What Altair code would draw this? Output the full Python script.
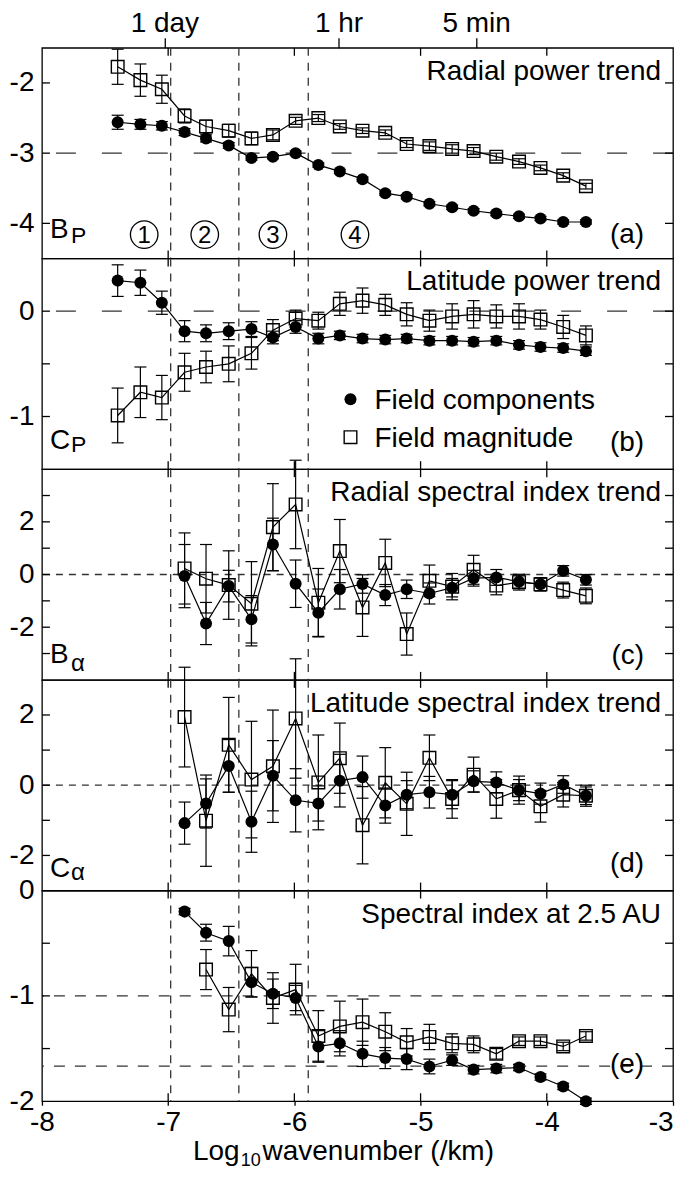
import altair as alt
import pandas as pd

# ---------------- data ----------------
X = [-7.40, -7.22, -7.05, -6.87, -6.70, -6.52, -6.34, -6.17, -5.99, -5.81, -5.64,
     -5.46, -5.28, -5.11, -4.93, -4.75, -4.58, -4.40, -4.22, -4.05, -3.87, -3.69]
N = None

# (a) Radial power trend
A_COMP = [-2.56, -2.59, -2.61, -2.70, -2.79, -2.89, -3.07, -3.05, -3.00, -3.17, -3.26,
          -3.37, -3.57, -3.62, -3.72, -3.77, -3.82, -3.86, -3.90, -3.93, -3.98, -3.98]
A_COMP_ERR = [0.10, 0.07, 0.06, 0.05, 0.05, 0.04, 0.03, 0.03, 0.03, 0.03, 0.03,
              0.03, 0.03, 0.03, 0.03, 0.03, 0.03, 0.03, 0.03, 0.03, 0.03, 0.03]
A_MAG = [-1.77, -1.96, -2.09, -2.47, -2.62, -2.68, -2.79, -2.74, -2.54, -2.50, -2.62,
         -2.68, -2.71, -2.87, -2.90, -2.94, -2.97, -3.05, -3.12, -3.21, -3.32, -3.47]
A_MAG_ERR = [0.25, 0.23, 0.20, 0.10, 0.09, 0.09, 0.09, 0.07, 0.05, 0.05, 0.04,
             0.04, 0.04, 0.05, 0.06, 0.06, 0.05, 0.05, 0.04, 0.04, 0.04, 0.04]

# (b) Latitude power trend
B_COMP = [0.29, 0.27, 0.08, -0.19, -0.21, -0.19, -0.17, -0.25, -0.15, -0.26, -0.23,
          -0.26, -0.27, -0.26, -0.28, -0.28, -0.29, -0.28, -0.32, -0.34, -0.35, -0.38]
B_COMP_ERR = [0.15, 0.12, 0.11, 0.10, 0.08, 0.08, 0.07, 0.06, 0.06, 0.05, 0.04,
              0.04, 0.04, 0.04, 0.04, 0.04, 0.04, 0.04, 0.04, 0.04, 0.04, 0.04]
B_MAG = [-0.99, -0.77, -0.82, -0.58, -0.53, -0.50, -0.40, -0.18, -0.07, -0.09, 0.07,
         0.10, 0.06, -0.03, -0.09, -0.05, -0.03, -0.05, -0.05, -0.08, -0.15, -0.23]
B_MAG_ERR = [0.26, 0.24, 0.21, 0.18, 0.15, 0.17, 0.15, 0.10, 0.08, 0.08, 0.11,
             0.12, 0.10, 0.11, 0.10, 0.12, 0.13, 0.11, 0.12, 0.09, 0.11, 0.09]

# (c) Radial spectral index trend
C_COMP = [N, N, N, -0.06, -1.86, -0.44, -1.70, 1.14, -0.35, -1.45, -0.56,
          -0.36, -0.78, -0.56, -0.72, -0.50, -0.14, -0.11, -0.27, -0.37, 0.14, -0.20]
C_COMP_ERR = [N, N, N, 1.2, 0.8, 0.6, 0.9, 1.0, 0.9, 0.9, 0.75,
              0.35, 0.4, 0.35, 0.4, 0.35, 0.3, 0.3, 0.25, 0.25, 0.2, 0.2]
C_MAG = [N, N, N, 0.23, -0.16, -0.40, -1.11, 1.80, 2.66, -1.07, 0.89,
         -1.25, 0.44, -2.26, -0.24, -0.46, 0.18, -0.42, -0.29, -0.37, -0.59, -0.81]
C_MAG_ERR = [N, N, N, 1.35, 1.3, 1.3, 1.6, 1.65, 1.68, 1.3, 1.2,
             1.1, 0.9, 0.8, 0.6, 0.5, 0.55, 0.35, 0.3, 0.25, 0.3, 0.3]

# (d) Latitude spectral index trend
D_COMP = [N, N, N, -1.08, -0.52, 0.55, -1.04, 0.27, -0.43, -0.52, 0.13,
          0.23, -0.58, -0.27, -0.20, -0.27, 0.11, 0.08, -0.14, -0.24, 0.02, -0.30]
D_COMP_ERR = [N, N, N, 0.6, 0.7, 0.75, 0.87, 1.0, 0.9, 0.5, 0.75,
              0.6, 0.5, 0.4, 0.45, 0.4, 0.3, 0.3, 0.3, 0.3, 0.25, 0.25]
D_MAG = [N, N, N, 1.94, -1.01, 1.15, 0.16, 0.54, 1.90, 0.08, 0.77,
         -1.14, 0.07, -0.53, 0.78, -0.39, 0.30, -0.39, -0.14, -0.60, -0.27, -0.30]
D_MAG_ERR = [N, N, N, 1.42, 1.3, 1.35, 1.66, 1.6, 1.7, 1.35, 1.0,
             1.1, 1.0, 0.9, 0.65, 0.55, 0.5, 0.55, 0.4, 0.45, 0.35, 0.3]

# (e) Spectral index at 2.5 AU
E_COMP = [N, N, N, -0.20, -0.40, -0.48, -0.87, -0.98, -1.02, -1.48, -1.45,
          -1.55, -1.59, -1.60, -1.67, -1.61, -1.70, -1.69, -1.68, -1.77, -1.86, -2.00]
E_COMP_ERR = [N, N, N, 0.03, 0.08, 0.14, 0.14, 0.14, 0.12, 0.15, 0.12,
              0.12, 0.10, 0.10, 0.07, 0.05, 0.04, 0.04, 0.03, 0.03, 0.03, 0.03]
E_MAG = [N, N, N, N, -0.75, -1.13, -0.79, -1.02, -0.94, -1.38, -1.29,
         -1.25, -1.34, -1.44, -1.39, -1.45, -1.46, -1.55, -1.43, -1.43, -1.48, -1.38]
E_MAG_ERR = [N, N, N, N, 0.19, 0.21, 0.22, 0.24, 0.24, 0.24, 0.24,
             0.22, 0.18, 0.13, 0.12, 0.09, 0.08, 0.05, 0.04, 0.04, 0.04, 0.04]

VLINES = [-6.98, -6.44, -5.89]
XTICKS = [-8, -7, -6, -5, -4, -3]
XINNER = [-7, -6, -5, -4]
TOP_TICK_X = [-7.03, -5.65, -4.56]
TOP_TICK_LABELS = ["1 day", "1 hr", "5 min"]
REGION_X = [-7.19, -6.71, -6.17, -5.52]
REGION_Y = -4.16
REGION_LABELS = ["1", "2", "3", "4"]
TITLES = ["Radial power trend", "Latitude power trend", "Radial spectral index trend",
          "Latitude spectral index trend", "Spectral index at 2.5 AU"]
LETTERS = ["(a)", "(b)", "(c)", "(d)", "(e)"]
LEGEND = ["Field components", "Field magnitude"]

# ---------------- style ----------------
FONT = "Liberation Sans"
FS = 28
W = 632
H = 211


def num_expr(vals):
    arr = "[" + ",".join(str(v) for v in vals) + "]"
    return ("indexof(" + arr + ", datum.value) >= 0 ? "
            "((datum.value < 0 ? '-' : '') + abs(datum.value)) : ''")


def series_rows(vals, errs, name):
    rows = []
    for x, y, e in zip(X, vals, errs):
        if y is None:
            continue
        rows.append({"x": x, "y": y, "lo": y - e, "hi": y + e, "s": name})
    return rows


def xaxis_for(kind):
    if kind == "top":
        expr = ("datum.value < -6.5 ? '%s' : (datum.value < -5 ? '%s' : '%s')"
                % tuple(TOP_TICK_LABELS))
        return alt.Axis(orient="top", values=TOP_TICK_X, labelExpr=expr, tickSize=10,
                        tickWidth=1.3, tickColor="black", labelPadding=0, domain=False,
                        grid=False, title=None, labelFontSize=FS, labelFont=FONT,
                        labelColor="black", labelOverlap=False)
    if kind == "bottom":
        return alt.Axis(orient="bottom", values=XTICKS,
                        labelExpr="(datum.value < 0 ? '-' : '') + abs(datum.value)",
                        tickSize=4, tickWidth=1.3, tickColor="black", labelPadding=3,
                        domain=False, grid=False, title=None, labelFontSize=FS,
                        labelFont=FONT, labelColor="black", labelOverlap=False,
                        labelAlign={"condition": {"test": "datum.value == -3", "value": "right"},
                                    "value": "center"})
    return None


def txt(t, x, y, size=FS, align="left", baseline="alphabetic"):
    return alt.Chart(pd.DataFrame({"t": [t]})).mark_text(
        align=align, baseline=baseline, fontSize=size, font=FONT, color="black"
    ).encode(text="t:N", x=alt.value(x), y=alt.value(y))


def panel(comp, comp_err, mag, mag_err, domain, axis_vals, label_vals, inner_yticks,
          hlines, hdash, idx, letter_y, sym, sub, sym_y, sub_dy, sub_size, xkind):
    df = pd.DataFrame(series_rows(comp, comp_err, "comp") + series_rows(mag, mag_err, "mag"))
    caps = pd.concat([df.assign(cy=df["lo"]), df.assign(cy=df["hi"])], ignore_index=True)
    xsc = alt.Scale(domain=[-8, -3], nice=False, zero=False)
    ysc = alt.Scale(domain=domain, nice=False, zero=False)
    xax = xaxis_for(xkind)
    yax = alt.Axis(values=axis_vals, labelExpr=num_expr(label_vals), ticks=False, tickSize=0,
                   domain=False, grid=False, title=None, labelPadding=8, labelFontSize=FS,
                   labelFont=FONT, labelColor="black", labelOverlap=False)

    def XE(f):
        return alt.X(f, type="quantitative", scale=xsc, axis=xax)

    def YE(f):
        return alt.Y(f, type="quantitative", scale=ysc, axis=yax)

    layers = []
    layers.append(alt.Chart(pd.DataFrame({"y": hlines})).mark_rule(
        color="#333", strokeWidth=1.3, strokeDash=hdash).encode(y=YE("y")))
    layers.append(alt.Chart(pd.DataFrame({"x": VLINES})).mark_rule(
        color="#333", strokeWidth=1.3, strokeDash=[8, 7]).encode(x=XE("x")))
    xt = pd.DataFrame({"x": XINNER})
    layers.append(alt.Chart(xt).mark_rule(color="black", strokeWidth=1.3).encode(
        x=XE("x"), y=alt.value(0), y2=alt.value(8)))
    layers.append(alt.Chart(xt).mark_rule(color="black", strokeWidth=1.3).encode(
        x=XE("x"), y=alt.value(H), y2=alt.value(H - 8)))
    yt = pd.DataFrame({"y": inner_yticks})
    layers.append(alt.Chart(yt).mark_rule(color="black", strokeWidth=1.3).encode(
        y=YE("y"), x=alt.value(0), x2=alt.value(8)))
    layers.append(alt.Chart(yt).mark_rule(color="black", strokeWidth=1.3).encode(
        y=YE("y"), x=alt.value(W), x2=alt.value(W - 8)))
    # error bars
    layers.append(alt.Chart(df).mark_rule(color="black", strokeWidth=1.2).encode(
        x=XE("x"), y=YE("lo"), y2="hi"))
    layers.append(alt.Chart(caps).mark_tick(orient="horizontal", size=12, thickness=1.2,
                                            color="black", opacity=1).encode(x=XE("x"), y=YE("cy")))
    # lines and markers
    layers.append(alt.Chart(df).mark_line(color="black", strokeWidth=1.2).encode(
        x=XE("x"), y=YE("y"), detail="s:N"))
    layers.append(alt.Chart(df).transform_filter("datum.s == 'mag'").mark_point(
        shape="square", filled=False, size=160, color="black", strokeWidth=1.4,
        opacity=1).encode(x=XE("x"), y=YE("y")))
    layers.append(alt.Chart(df).transform_filter("datum.s == 'comp'").mark_point(
        shape="circle", filled=True, size=145, color="black", opacity=1).encode(
        x=XE("x"), y=YE("y")))
    # texts
    layers.append(txt(TITLES[idx], W - 12, 32, align="right"))
    layers.append(txt(LETTERS[idx], W - 29, H - letter_y, align="right"))
    if sym:
        layers.append(txt(sym, 8, H - sym_y))
        layers.append(txt(sub, 29, H - sym_y + sub_dy, size=sub_size))

    if idx == 0:
        rg = pd.DataFrame({"x": REGION_X, "y": [REGION_Y] * len(REGION_X), "t": REGION_LABELS})
        layers.append(alt.Chart(rg).mark_point(shape="circle", filled=False, size=760,
                                               color="black", strokeWidth=1.3, opacity=1).encode(
            x=XE("x"), y=YE("y")))
        layers.append(alt.Chart(rg).mark_text(fontSize=24, font=FONT, color="black",
                                              baseline="middle", dy=1).encode(
            x=XE("x"), y=YE("y"), text="t:N"))
    if idx == 1:
        layers.append(alt.Chart(pd.DataFrame({"k": [0]})).mark_point(
            shape="circle", filled=True, size=145, color="black", opacity=1).encode(
            x=alt.value(309), y=alt.value(141)))
        layers.append(alt.Chart(pd.DataFrame({"k": [0]})).mark_point(
            shape="square", filled=False, size=160, color="black", strokeWidth=1.4,
            opacity=1).encode(x=alt.value(309), y=alt.value(179)))
        layers.append(txt(LEGEND[0], 333, 151))
        layers.append(txt(LEGEND[1], 333, 189))
    if idx == 4:
        layers.append(txt("Log", 198, H + 59, align="right"))
        layers.append(txt("10", 199, H + 65, size=18))
        layers.append(txt("wavenumber (/km)", 221, H + 59))

    return alt.layer(*layers).properties(width=W, height=H)


pa = panel(A_COMP, A_COMP_ERR, A_MAG, A_MAG_ERR, [-4.5, -1.5], [-2, -3, -4], [-2, -3, -4],
           [-2, -3, -4], [-3], [20, 26], 0, 16, "B", "P", 21, 5, 23, "top")
pb = panel(B_COMP, B_COMP_ERR, B_MAG, B_MAG_ERR, [-1.5, 0.5], [0, -0.5, -1], [0, -1],
           [0, -0.5, -1], [0], [20, 26], 1, 18, "C", "P", 20, 3, 23, "none")
pc = panel(C_COMP, C_COMP_ERR, C_MAG, C_MAG_ERR, [-4, 4], [-3, -2, -1, 0, 1, 2, 3], [-2, 0, 2],
           [-3, -2, -1, 0, 1, 2, 3], [0], [7, 6], 2, 16, "B", "α", 17, 8, 24, "none")
pd_ = panel(D_COMP, D_COMP_ERR, D_MAG, D_MAG_ERR, [-3, 3], [-2, -1, 0, 1, 2], [-2, 0, 2],
            [-2, -1, 0, 1, 2], [0], [7, 6], 3, 19, "C", "α", 14, 3, 24, "none")
pe = panel(E_COMP, E_COMP_ERR, E_MAG, E_MAG_ERR, [-2, 0], [0, -0.5, -1, -1.5, -2], [0, -1, -2],
           [-0.5, -1, -1.5], [-1, -5 / 3], [11, 10], 4, 28, None, None, 0, 0, 0, "bottom")

chart = alt.vconcat(pa, pb, pc, pd_, pe, spacing=0, bounds="flush").configure_view(
    stroke="black", strokeWidth=1.3
).properties(padding={"left": 0, "right": 2, "top": 0, "bottom": 0}, background="white")

chart.save("out.html", embed_options={"renderer": "svg", "actions": False})
